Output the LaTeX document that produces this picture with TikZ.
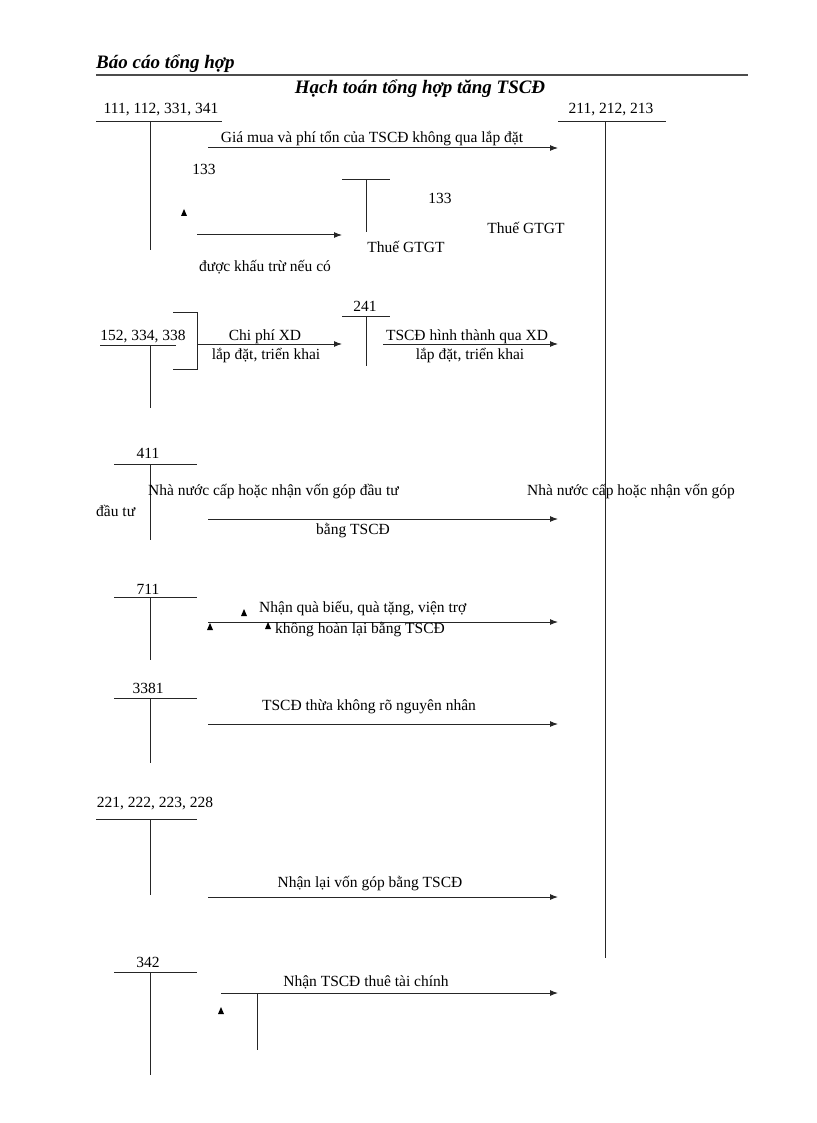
\documentclass[tikz,border=0pt]{standalone}
\usepackage{fontspec}
\setmainfont{Liberation Serif}
\usetikzlibrary{arrows.meta}
\begin{document}
\begin{tikzpicture}[x=1pt,y=-1pt,
  lbl/.style={inner sep=0pt,font=\fontsize{15.5}{17}\selectfont},
  ln/.style={line width=1pt,draw=black!85},
  arr/.style={ln,-{Latex[length=8pt,width=6pt]}},
  tri/.style={fill=black}]
\useasboundingbox (0,0) rectangle (816,1123);
\newcommand{\tri}[2]{\fill (#1-3,#2+3) -- (#1+3,#2+3) -- (#1,#2-4) -- cycle;}
% header
\node[lbl,anchor=west,font=\fontsize{19}{21}\selectfont\bfseries\itshape] (hdr) at (96,64) {Báo cáo tổng hợp};
\draw[line width=1.4pt,black!70] (96,75) coordinate (h1) -- (748,75) coordinate (h2);
\node[lbl,font=\fontsize{19}{21}\selectfont\bfseries\itshape] (title) at (420,89) {Hạch toán tổng hợp tăng TSCĐ};
% 111
\node[lbl] (a111) at (161,110) {111, 112, 331, 341};
\draw[ln] (96,122) coordinate (a1l) -- (222,122) (150,122) -- (150,250);
% 211
\node[lbl] (a211) at (611,110) {211, 212, 213};
\draw[ln] (558,122) -- (666,122) (605,122) -- (605,958);
\coordinate (e1s) at (208,148); \coordinate (e1e) at (558,148);
\draw[arr] (e1s) -- (e1e);
\node[lbl] (t1) at (372,139) {Giá mua và phí tổn của TSCĐ không qua lắp đặt};
\node[lbl] (n133a) at (204,169) {133};
\tri{184}{213}
\coordinate (e2s) at (197,235); \coordinate (e2e) at (342,235);
\draw[arr] (e2s) -- (e2e);
\node[lbl] (t2) at (265,267) {được khấu trừ nếu có};
\draw[ln] (342,180) -- (390,180) (366,180) -- (366,232);
\node[lbl] (n133b) at (440,198) {133};
\node[lbl] (g1) at (406,247) {Thuế GTGT};
\node[lbl] (g2) at (526,228) {Thuế GTGT};
% 152
\node[lbl] (a152) at (143,337) {152, 334, 338};
\draw[ln] (100,345) -- (176,345) (150,345) -- (150,408);
\draw[ln] (173,312) -- (197,312) -- (197,369) -- (173,369);
\coordinate (e3s) at (197,344); \coordinate (e3e) at (342,344);
\draw[arr] (e3s) -- (e3e);
\node[lbl] (t3a) at (265,337) {Chi phí XD};
\node[lbl] (t3b) at (266,356) {lắp đặt, triển khai};
\node[lbl] (a241) at (365,306) {241};
\draw[ln] (342,316) -- (390,316) (366,316) -- (366,366);
\coordinate (e4s) at (383,344); \coordinate (e4e) at (558,344);
\draw[arr] (e4s) -- (e4e);
\node[lbl] (t4a) at (467,337) {TSCĐ hình thành qua XD};
\node[lbl] (t4b) at (470,356) {lắp đặt, triển khai};
% 411
\node[lbl] (a411) at (148,453) {411};
\draw[ln] (114,464) -- (197,464) (150,464) -- (150,540);
\node[lbl,anchor=west] (t5a) at (148,492) {Nhà nước cấp hoặc nhận vốn góp đầu tư};
\node[lbl,anchor=west] (t5b) at (96,511) {đầu tư};
\node[lbl,anchor=west] (t5c) at (527,492) {Nhà nước cấp hoặc nhận vốn góp};
\coordinate (e5s) at (208,519); \coordinate (e5e) at (558,519);
\draw[arr] (e5s) -- (e5e);
\node[lbl] (t5d) at (353,531) {bằng TSCĐ};
% 711
\node[lbl] (a711) at (148,589) {711};
\draw[ln] (114,597) -- (197,597) (150,597) -- (150,660);
\coordinate (e6s) at (208,622); \coordinate (e6e) at (558,622);
\draw[arr] (e6s) -- (e6e);
\tri{210}{627}\tri{244}{613}\tri{268}{626}
\node[lbl,anchor=west] (t6a) at (259,609) {Nhận quà biếu, quà tặng, viện trợ};
\node[lbl,anchor=west] (t6b) at (275,630) {không hoàn lại bằng TSCĐ};
% 3381
\node[lbl] (a3381) at (148,688) {3381};
\draw[ln] (114,698) -- (197,698) (150,698) -- (150,763);
\coordinate (e7s) at (208,724); \coordinate (e7e) at (558,724);
\draw[arr] (e7s) -- (e7e);
\node[lbl] (t7) at (369,707) {TSCĐ thừa không rõ nguyên  nhân};
% 221
\node[lbl] (a221) at (155,804) {221, 222, 223, 228};
\draw[ln] (96,819) -- (197,819) (150,819) -- (150,895);
\coordinate (e8s) at (208,897); \coordinate (e8e) at (558,897);
\draw[arr] (e8s) -- (e8e);
\node[lbl] (t8) at (370,884) {Nhận lại vốn góp bằng TSCĐ};
% 342
\node[lbl] (a342) at (148,962) {342};
\draw[ln] (114,972) -- (197,972) (150,972) -- (150,1075);
\coordinate (e9s) at (221,993); \coordinate (e9e) at (558,993);
\draw[arr] (e9s) -- (e9e);
\node[lbl] (t9) at (366,982) {Nhận TSCĐ thuê tài chính};
\tri{221}{1011}
\draw[ln] (257,993) -- (257,1050);
\end{tikzpicture}
\end{document}
